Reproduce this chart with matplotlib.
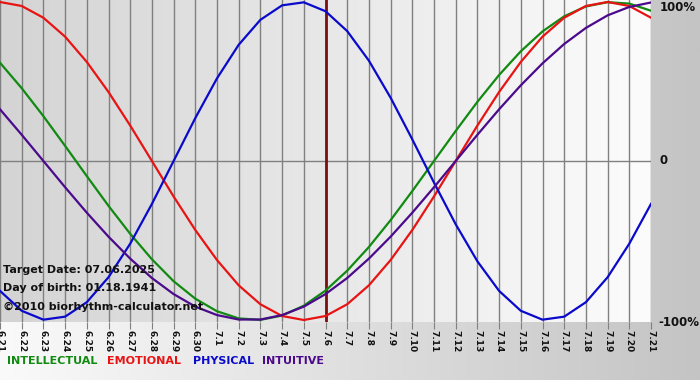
import numpy as np
import matplotlib
matplotlib.use("Agg")
import matplotlib.pyplot as plt

dates = ["6.21", "6.22", "6.23", "6.24", "6.25", "6.26", "6.27", "6.28", "6.29", "6.30",
         "7.1", "7.2", "7.3", "7.4", "7.5", "7.6", "7.7", "7.8", "7.9", "7.10",
         "7.11", "7.12", "7.13", "7.14", "7.15", "7.16", "7.17", "7.18", "7.19", "7.20", "7.21"]

intellectual = [0.618, 0.458, 0.282, 0.095, -0.095, -0.282, -0.458, -0.618, -0.756, -0.866,
                -0.945, -0.990, -0.999, -0.972, -0.910, -0.815, -0.690, -0.541, -0.372, -0.189,
                0.0, 0.189, 0.372, 0.541, 0.690, 0.815, 0.910, 0.972, 0.999, 0.990, 0.945]
emotional = [1.0, 0.975, 0.901, 0.782, 0.623, 0.434, 0.223, 0.0, -0.223, -0.434,
             -0.623, -0.782, -0.901, -0.975, -1.0, -0.975, -0.901, -0.782, -0.623, -0.434,
             -0.223, 0.0, 0.223, 0.434, 0.623, 0.782, 0.901, 0.975, 1.0, 0.975, 0.901]
physical = [-0.817, -0.942, -0.998, -0.979, -0.888, -0.731, -0.520, -0.270, 0.0, 0.270,
            0.520, 0.731, 0.888, 0.979, 0.998, 0.942, 0.817, 0.631, 0.398, 0.136,
            -0.136, -0.398, -0.631, -0.817, -0.942, -0.998, -0.979, -0.888, -0.731, -0.520, -0.270]
intuitive = [0.325, 0.165, 0.0, -0.165, -0.325, -0.476, -0.614, -0.736, -0.837, -0.916,
             -0.969, -0.997, -0.997, -0.969, -0.916, -0.837, -0.736, -0.614, -0.476, -0.325,
             -0.165, 0.0, 0.165, 0.325, 0.476, 0.614, 0.736, 0.837, 0.916, 0.969, 0.997]

series_names = ["INTELLECTUAL", "EMOTIONAL", "PHYSICAL", "INTUITIVE"]
series_colors = ["#118a11", "#e81414", "#0a0acc", "#4b0a8c"]
target_label = "7.6"
info_lines = ["Target Date: 07.06.2025", "Day of birth: 01.18.1941", "\u00a92010 biorhythm-calculator.net"]
ylabels = ["100%", "0", "-100%"]
yvals = [1.0, 0.0, -1.0]

W, H = 700, 380
fig = plt.figure(figsize=(W / 100, H / 100), dpi=100)

# figure background gradient
bg = fig.add_axes([0, 0, 1, 1], zorder=-10)
grad = np.linspace(0, 1, 256)[None, :]
bg.imshow(grad, extent=[0, 1, 0, 1], aspect="auto",
          cmap=matplotlib.colors.LinearSegmentedColormap.from_list("g", ["#fafafa", "#c4c4c4"]))
bg.set_xlim(0, 1); bg.set_ylim(0, 1); bg.axis("off")

ax = fig.add_axes([0, (H - 322) / H, 651 / W, 322 / H])
x = np.arange(len(dates))
ax.set_xlim(0, len(dates) - 1)
ax.set_ylim(-1.0126, 1.0126)
ax.imshow(grad, extent=[0, len(dates) - 1, -1.0126, 1.0126], aspect="auto", zorder=0,
          cmap=matplotlib.colors.LinearSegmentedColormap.from_list("p", ["#d4d4d4", "#fcfcfc"]))

for xi in x:
    ax.axvline(xi, color="#808080", lw=1.0, zorder=1)
ax.axhline(0, color="#808080", lw=1.0, zorder=1)
ti = dates.index(target_label)
ax.axvline(x[ti], color="#7a1010", lw=2.0, zorder=2)

for vals, c in zip([intellectual, emotional, physical, intuitive], series_colors):
    ax.plot(x, vals, color=c, lw=1.6, zorder=3, solid_joinstyle="round")

for s in ax.spines.values():
    s.set_visible(False)
ax.set_xticks(x)
ax.set_xticklabels(dates, rotation=270, fontsize=6.5, fontweight="bold", color="#111111")
ax.tick_params(axis="x", length=5, color="#808080", pad=1)
ax.set_yticks([])

yoffs = [-4, 0, -2]
xoffs = [6, 6, 5]
for lab, yv, yo, xo in zip(ylabels, yvals, yoffs, xoffs):
    ax.annotate(lab, xy=(1.0, yv), xycoords=("axes fraction", "data"),
                xytext=(xo, yo), textcoords="offset points",
                ha="left", va="center", fontsize=8.5, fontweight="bold", color="#111111")

for i, t in enumerate(info_lines):
    ax.text(3 / 651, (322 - 270 - 18 * i - (1 if i == 2 else 0)) / 322, t, transform=ax.transAxes,
            ha="left", va="center", fontsize=8, fontweight="bold", color="#111111",
            family="DejaVu Sans", zorder=5)

lx = [7, 107, 193, 262]
for name, c, px in zip(series_names, series_colors, lx):
    fig.text(px / W, (H - 361) / H, name, color=c, fontsize=8, fontweight="bold",
             ha="left", va="center")

fig.savefig("out.png", dpi=100)
